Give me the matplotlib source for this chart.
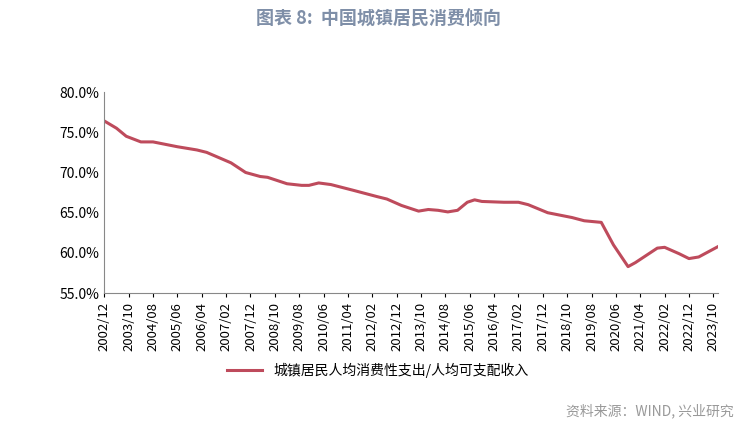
import matplotlib
matplotlib.use("Agg")
import matplotlib.pyplot as plt
import matplotlib.ticker as mticker

plt.rcParams["font.family"] = ["Noto Sans CJK SC", "DejaVu Sans"]

# months since 2002/12, and ratio (%)
months = [0, 5, 9, 15, 20, 25, 30, 38, 42, 52, 58, 64, 67, 75, 81, 84, 88, 93,
          102, 112, 116, 122, 129, 133, 137, 141, 145, 149, 152, 155, 164, 170,
          174, 182, 192, 197, 204, 209, 215, 218, 227, 230, 236, 240, 244, 252]
ratio = [76.4, 75.5, 74.5, 73.8, 73.8, 73.5, 73.2, 72.8, 72.5, 71.2, 70.0, 69.5,
         69.4, 68.6, 68.4, 68.4, 68.7, 68.5, 67.8, 67.0, 66.7, 65.9, 65.2, 65.4,
         65.3, 65.1, 65.3, 66.3, 66.6, 66.4, 66.3, 66.3, 66.0, 65.0, 64.4, 64.0,
         63.8, 61.0, 58.3, 58.8, 60.6, 60.7, 59.9, 59.3, 59.5, 60.8]

def month_label(m):
    y, mo = divmod(2002 * 12 + 11 + m, 12)
    return f"{y}/{mo + 1:02d}"

tick_pos = list(range(0, 251, 10))
tick_labels = [month_label(m) for m in tick_pos]

fig = plt.figure(figsize=(7.56, 4.28), dpi=100)
ax = fig.add_axes([0.138, 0.315, 0.812, 0.47])
ax.plot(months, ratio, color="#BE4B5C", lw=2.2, label="城镇居民人均消费性支出/人均可支配收入")
ax.set_ylim(55, 80)
ax.set_xlim(0, 252)
ax.yaxis.set_major_locator(mticker.MultipleLocator(5))
ax.yaxis.set_major_formatter(mticker.FuncFormatter(lambda v, p: f"{v:.1f}%"))
ax.set_xticks(tick_pos)
ax.set_xticklabels(tick_labels, rotation=90, fontsize=9.5)
ax.tick_params(axis="y", labelsize=10, length=0)
ax.tick_params(axis="x", length=3)
for s in ["top", "right"]:
    ax.spines[s].set_visible(False)
ax.spines["left"].set_color("#888888")
ax.spines["bottom"].set_color("#888888")

fig.legend(loc="center", bbox_to_anchor=(0.5, 0.135), frameon=False, fontsize=10,
           handlelength=2.5)
fig.text(0.5, 0.955, "图表 8:  中国城镇居民消费倾向", ha="center", va="center",
         fontsize=13, fontweight="bold", color="#7F8FA8")
fig.text(0.97, 0.04, "资料来源：WIND, 兴业研究", ha="right", va="center",
         fontsize=10, color="#999999")

fig.savefig("out.png", dpi=100)
